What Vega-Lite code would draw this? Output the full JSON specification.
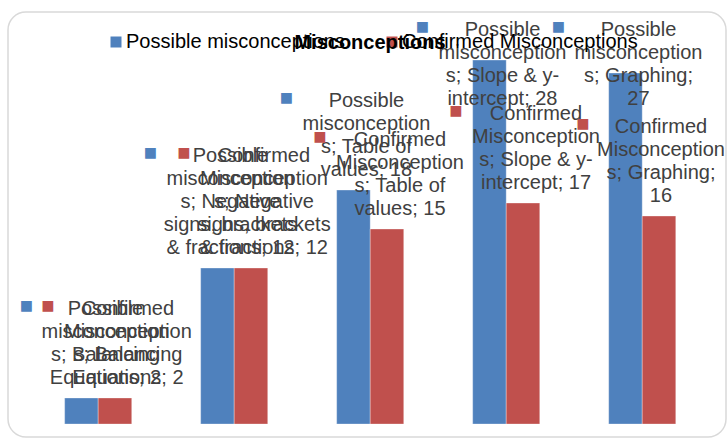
{
  "$schema": "https://vega.github.io/schema/vega-lite/v6.json",
  "autosize": "none",
  "width": 718,
  "height": 425,
  "padding": {"left": 8, "top": 12, "right": 2, "bottom": 5},
  "background": "white",
  "config": {
    "font": "Liberation Sans",
    "view": {"stroke": "#d9d9d9", "strokeWidth": 1.5, "cornerRadius": 18}
  },
  "title": {
    "text": "Misconceptions",
    "font": "Liberation Sans",
    "fontSize": 20,
    "fontWeight": "bold",
    "color": "#000000",
    "anchor": "middle",
    "frame": "group",
    "baseline": "alphabetic",
    "offset": -57,
    "dx": 3
  },
  "data": {
    "values": [
      {"category": "Balancing Equations", "series": "Possible misconceptions", "value": 2, "label": "Possible\nmisconception\ns; Balancing\nEquations; 2"},
      {"category": "Balancing Equations", "series": "Confirmed Misconceptions", "value": 2, "label": "Confirmed\nMisconception\ns; Balancing\nEquations; 2"},
      {"category": "Negative signs, brackets & fractions", "series": "Possible misconceptions", "value": 12, "label": "Possible\nmisconception\ns; Negative\nsigns, brackets\n& fractions; 12"},
      {"category": "Negative signs, brackets & fractions", "series": "Confirmed Misconceptions", "value": 12, "label": "Confirmed\nMisconception\ns; Negative\nsigns, brackets\n& fractions; 12"},
      {"category": "Table of values", "series": "Possible misconceptions", "value": 18, "label": "Possible\nmisconception\ns; Table of\nvalues; 18"},
      {"category": "Table of values", "series": "Confirmed Misconceptions", "value": 15, "label": "Confirmed\nMisconception\ns; Table of\nvalues; 15"},
      {"category": "Slope & y-intercept", "series": "Possible misconceptions", "value": 28, "label": "Possible\nmisconception\ns; Slope & y-\nintercept; 28"},
      {"category": "Slope & y-intercept", "series": "Confirmed Misconceptions", "value": 17, "label": "Confirmed\nMisconception\ns; Slope & y-\nintercept; 17"},
      {"category": "Graphing", "series": "Possible misconceptions", "value": 27, "label": "Possible\nmisconception\ns; Graphing;\n27"},
      {"category": "Graphing", "series": "Confirmed Misconceptions", "value": 16, "label": "Confirmed\nMisconception\ns; Graphing;\n16"}
    ]
  },
  "encoding": {
    "x": {
      "field": "category",
      "type": "nominal",
      "sort": null,
      "axis": null,
      "scale": {"paddingInner": 0.507, "paddingOuter": 0.393, "align": 0.53}
    },
    "xOffset": {
      "field": "series",
      "type": "nominal",
      "sort": ["Possible misconceptions", "Confirmed Misconceptions"],
      "scale": {"paddingInner": 0, "paddingOuter": 0}
    }
  },
  "layer": [
    {
      "mark": {"type": "bar", "stroke": "#ffffff", "strokeOpacity": 0.3, "strokeWidth": 1},
      "encoding": {
        "y": {
          "field": "value",
          "type": "quantitative",
          "axis": null,
          "scale": {"domain": [-1, 31.7], "nice": false, "zero": false}
        },
        "color": {
          "field": "series",
          "type": "nominal",
          "sort": ["Possible misconceptions", "Confirmed Misconceptions"],
          "scale": {"domain": ["Possible misconceptions", "Confirmed Misconceptions"], "range": ["#4F81BD", "#C0504D"]},
          "legend": {
            "title": null,
            "orient": "none",
            "direction": "horizontal",
            "legendX": 98,
            "legendY": 20,
            "symbolType": "square",
            "symbolSize": 121,
            "symbolStrokeWidth": 0,
            "labelFont": "Liberation Sans",
            "labelFontSize": 20,
            "labelColor": "#000000",
            "labelOffset": 0,
            "columnPadding": 37,
            "labelLimit": 400,
            "padding": 0
          }
        }
      }
    },
    {
      "encoding": {
        "y": {
          "field": "value",
          "type": "quantitative",
          "axis": null,
          "scale": {"domain": [-1, 23.5], "range": [425, 106.5], "clamp": true, "nice": false, "zero": false}
        }
      },
      "layer": [
        {
          "transform": [{"filter": "datum.category !== 'Negative signs, brackets & fractions' && !(datum.category === 'Graphing' && datum.series === 'Confirmed Misconceptions') && !(datum.category === 'Balancing Equations' && datum.series === 'Possible misconceptions')"}],
          "mark": {"type": "text", "font": "Liberation Sans", "fontSize": 20, "fill": "#404040", "lineBreak": "\n", "lineHeight": 23, "align": "center", "baseline": "alphabetic", "dx": 13, "dy": -83},
          "encoding": {"text": {"field": "label", "type": "nominal"}}
        },
        {
          "transform": [{"filter": "datum.category === 'Negative signs, brackets & fractions'"}],
          "mark": {"type": "text", "font": "Liberation Sans", "fontSize": 20, "fill": "#404040", "lineBreak": "\n", "lineHeight": 23, "align": "center", "baseline": "alphabetic", "dx": 13, "dy": -106},
          "encoding": {"text": {"field": "label", "type": "nominal"}}
        },
        {
          "transform": [{"filter": "datum.category === 'Graphing' && datum.series === 'Confirmed Misconceptions'"}],
          "mark": {"type": "text", "font": "Liberation Sans", "fontSize": 20, "fill": "#404040", "lineBreak": "\n", "lineHeight": 23, "align": "center", "baseline": "alphabetic", "dx": 2, "dy": -83},
          "encoding": {"text": {"field": "label", "type": "nominal"}}
        },
        {
          "transform": [{"filter": "datum.category === 'Balancing Equations' && datum.series === 'Possible misconceptions'"}],
          "mark": {"type": "text", "font": "Liberation Sans", "fontSize": 20, "fill": "#404040", "lineBreak": "\n", "lineHeight": 23, "align": "center", "baseline": "alphabetic", "dx": 24, "dy": -83},
          "encoding": {"text": {"field": "label", "type": "nominal"}}
        },
        {
          "transform": [{"filter": "datum.category !== 'Negative signs, brackets & fractions' && !(datum.category === 'Graphing' && datum.series === 'Confirmed Misconceptions') && !(datum.category === 'Balancing Equations' && datum.series === 'Possible misconceptions')"}],
          "mark": {"type": "text", "text": "■", "font": "Liberation Sans", "fontSize": 22, "align": "center", "baseline": "alphabetic", "dx": -67, "dy": -85},
          "encoding": {"color": {"field": "series", "type": "nominal", "legend": null}}
        },
        {
          "transform": [{"filter": "datum.category === 'Negative signs, brackets & fractions'"}],
          "mark": {"type": "text", "text": "■", "font": "Liberation Sans", "fontSize": 22, "align": "center", "baseline": "alphabetic", "dx": -67, "dy": -108},
          "encoding": {"color": {"field": "series", "type": "nominal", "legend": null}}
        },
        {
          "transform": [{"filter": "datum.category === 'Graphing' && datum.series === 'Confirmed Misconceptions'"}],
          "mark": {"type": "text", "text": "■", "font": "Liberation Sans", "fontSize": 22, "align": "center", "baseline": "alphabetic", "dx": -76, "dy": -85},
          "encoding": {"color": {"field": "series", "type": "nominal", "legend": null}}
        },
        {
          "transform": [{"filter": "datum.category === 'Balancing Equations' && datum.series === 'Possible misconceptions'"}],
          "mark": {"type": "text", "text": "■", "font": "Liberation Sans", "fontSize": 22, "align": "center", "baseline": "alphabetic", "dx": -55, "dy": -85},
          "encoding": {"color": {"field": "series", "type": "nominal", "legend": null}}
        }
      ]
    }
  ],
  "resolve": {"scale": {"y": "independent"}}
}
